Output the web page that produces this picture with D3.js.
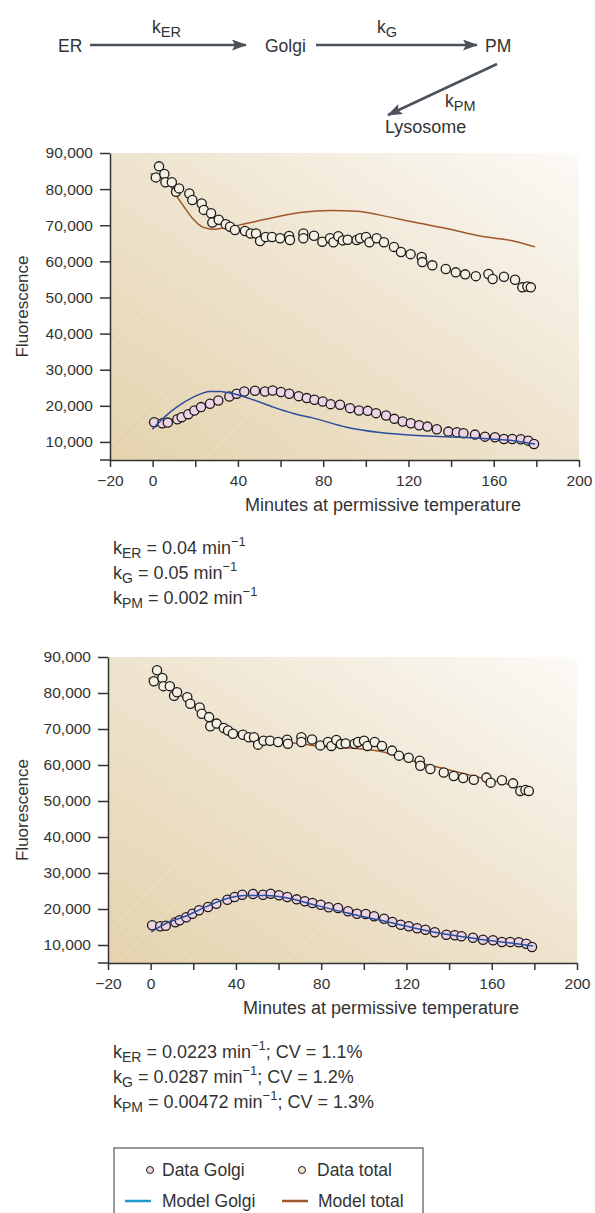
<!DOCTYPE html>
<html>
<head>
<meta charset="utf-8">
<script src="https://cdn.jsdelivr.net/npm/d3@7"></script>
<style>
  body { margin: 0; background: #fff; }
  svg text { font-family: "Liberation Sans", Arial, sans-serif; fill: #333; }
</style>
</head>
<body>
<svg id="chart" width="595" height="1213"></svg>
<script>
// measured data (same in both panels)
const golgiTimes = [0.7, 4.5, 7.1, 11.6, 13.6, 16.7, 19.6, 22.7, 26.9, 30.8, 36, 39.4, 43, 48, 52.7, 56.3, 60.2, 64.1, 68.5, 72.3, 75.9, 79.8, 83.5, 87.9, 92.6, 96.8, 100.9, 104.8, 109.5, 113.4, 117.3, 121.1, 125, 128.9, 133.3, 138.7, 142.7, 145.8, 151.2, 155.9, 160.6, 164.8, 168.7, 172.7, 176.2, 178.9];
const golgiValues = [15470, 15190, 15360, 16300, 16860, 17690, 18690, 19640, 20560, 21470, 22580, 23330, 23970, 24170, 23970, 24250, 23810, 23330, 22680, 22140, 21670, 21200, 20470, 20280, 19360, 18690, 18610, 17970, 17310, 16390, 15640, 15190, 14640, 14250, 13530, 12860, 12690, 12420, 12030, 11470, 11300, 10830, 10830, 10750, 10360, 9440];

const totalTimes = [1.5, 3, 5.5, 6, 9, 11, 12.4, 17.2, 18.6, 23, 24, 27.4, 28, 31, 34.3, 36.3, 38.6, 43.3, 46, 48.5, 50.4, 53, 56, 59.8, 64, 64.4, 70.7, 70.7, 75.7, 79.6, 83.2, 84.8, 87.1, 89.2, 91.5, 95.7, 97.3, 100.1, 101.7, 105.1, 108.5, 113.2, 116.5, 121, 126.2, 126.5, 131.2, 137.5, 142.2, 146.6, 151.6, 157.5, 159.5, 164.8, 170, 173.4, 175.8, 177.4];
const totalValues = [83250, 86300, 84200, 81900, 81900, 79250, 80200, 78800, 77000, 76000, 74250, 73300, 70750, 71500, 70300, 69600, 68700, 68400, 67700, 67700, 65650, 66750, 66750, 66400, 67000, 65900, 67700, 66400, 67100, 65450, 66400, 65300, 66950, 65800, 66000, 65900, 66400, 66750, 65300, 66400, 65300, 64000, 62600, 62000, 61200, 59800, 58900, 57900, 56950, 56400, 55900, 56500, 55100, 55750, 54900, 52800, 53050, 52800];

// model curves, panel 1 (initial guess of rates)
const model1Times = [-1, 2, 6.6, 9.7, 14.4, 19, 23.8, 28.5, 34.8, 41, 53.5, 69.2, 83.2, 95.7, 106.7, 122.3, 137.9, 153.6, 169.2, 179.4];
const model1Total = [84200, 84000, 82800, 79500, 75400, 71700, 69400, 68900, 69400, 70100, 71700, 73500, 74100, 73900, 72800, 70900, 69100, 67000, 65650, 64000];
const model1GolgiTimes = [-0.1, 5, 11.3, 19.1, 26.9, 31.6, 37.9, 47.2, 56.6, 66, 75.4, 91, 106.7, 122.3, 137.9, 153.6, 169.2, 179.4];
const model1Golgi = [13530, 16600, 19640, 22400, 23970, 23970, 23330, 21670, 19640, 17900, 16600, 14080, 12600, 11860, 11470, 11030, 10360, 9440];

// model curves, panel 2 (fitted rates)
const model2Times = [-1, 4.2, 10.5, 16.7, 23, 29.2, 38.6, 48, 59, 69.9, 76, 91.7, 107.4, 123, 138.7, 154.3, 170, 179.4];
const model2Total = [84000, 83600, 80900, 78100, 75300, 72600, 69600, 67800, 66600, 65900, 65400, 64800, 63800, 61100, 58800, 56500, 54200, 51900];
const model2GolgiTimes = [0.3, 7.3, 16.7, 26.1, 35.5, 44.9, 54.2, 63.6, 76.1, 91.8, 107.4, 123, 138.7, 154.3, 170, 179.4];
const model2Golgi = [13630, 16030, 18060, 20660, 22870, 23780, 23780, 23150, 21270, 18970, 16920, 14820, 12960, 11580, 10470, 9720];

const yTicks = [10000, 20000, 30000, 40000, 50000, 60000, 70000, 80000, 90000];
const xTicks = [-20, 0, 20, 40, 60, 80, 100, 120, 140, 160, 180, 200];
const xLabeled = [-20, 0, 40, 80, 120, 160, 200];

const BLUE = "#2b4d9c", BROWN = "#a0572b";
const svg = d3.select("#chart");
const defs = svg.append("defs");

// plot background: tan gradient plus faint diagonal hatch
const grad = defs.append("linearGradient").attr("id", "bg")
  .attr("x1", 0).attr("y1", 1).attr("x2", 1).attr("y2", 0);
grad.append("stop").attr("offset", "0%").attr("stop-color", "#e4d2ac");
grad.append("stop").attr("offset", "55%").attr("stop-color", "#efe5d1");
grad.append("stop").attr("offset", "100%").attr("stop-color", "#fcfaf6");

const hatch = defs.append("pattern").attr("id", "hatch")
  .attr("width", 7).attr("height", 7).attr("patternUnits", "userSpaceOnUse")
  .attr("patternTransform", "rotate(45)");
hatch.append("line").attr("x1", 0).attr("y1", 0).attr("x2", 0).attr("y2", 7)
  .attr("stroke", "#fff").attr("stroke-width", 1).attr("stroke-opacity", 0.28);

defs.append("marker").attr("id", "head")
  .attr("markerUnits", "userSpaceOnUse")
  .attr("markerWidth", 15).attr("markerHeight", 11)
  .attr("refX", 14).attr("refY", 5.5).attr("orient", "auto")
  .append("path").attr("d", "M0,0 L15,5.5 L0,11 L3,5.5 Z").attr("fill", "#4b5259");

// write "k" + subscript + rest, with optional superscript "−1"
function kLabel(sel, sub, parts) {
  sel.append("tspan").text("k");
  sel.append("tspan").attr("font-size", 14).attr("dy", 4).text(sub);
  parts.forEach((p, i) => {
    if (p.sup) sel.append("tspan").attr("font-size", 13).attr("dy", i === 0 ? -12 : -8).text(p.sup);
    else sel.append("tspan").attr("font-size", 18).attr("dy", i === 0 ? -4 : 8).text(p.t);
  });
}

// ---- pathway diagram ----
const diag = svg.append("g");
[["ER", 58], ["Golgi", 265], ["PM", 485]].forEach(([t, x]) => {
  diag.append("text").attr("x", x).attr("y", 52).attr("font-size", 17.5).text(t);
});
diag.append("text").attr("x", 385).attr("y", 133).attr("font-size", 18).text("Lysosome");
[[90, 45, 246, 45], [316, 45, 477, 45], [497, 64, 388, 115]].forEach(a => {
  diag.append("line").attr("x1", a[0]).attr("y1", a[1]).attr("x2", a[2]).attr("y2", a[3])
    .attr("stroke", "#4b5259").attr("stroke-width", 2.5).attr("marker-end", "url(#head)");
});
function kOnly(x, y, sub) {
  const t = diag.append("text").attr("x", x).attr("y", y).attr("font-size", 17.5);
  t.append("tspan").text("k");
  t.append("tspan").attr("font-size", 14.5).attr("dy", 4).text(sub);
}
kOnly(152, 33, "ER");
kOnly(377, 33, "G");
kOnly(445, 107, "PM");

// ---- panels ----
function drawPanel(p) {
  const g = svg.append("g");
  const x = d3.scaleLinear().domain([-20, 200]).range([p.left, p.right]);
  const y = d3.scaleLinear().domain([5000, 90000]).range([p.bottom, p.top]);

  g.append("rect").attr("x", p.left).attr("y", p.top)
    .attr("width", p.right - p.left).attr("height", p.bottom - p.top).attr("fill", "url(#bg)");
  g.append("rect").attr("x", p.left).attr("y", p.top)
    .attr("width", p.right - p.left).attr("height", p.bottom - p.top).attr("fill", "url(#hatch)");

  const yAxis = g.append("g").attr("transform", `translate(${p.left},0)`)
    .call(d3.axisLeft(y).tickValues(yTicks).tickFormat(d3.format(",")).tickSizeInner(10).tickSizeOuter(0).tickPadding(7));
  const xAxis = g.append("g").attr("transform", `translate(0,${p.bottom})`)
    .call(d3.axisBottom(x).tickValues(xTicks)
      .tickFormat(d => xLabeled.includes(d) ? d3.format("")(d) : "")
      .tickSizeInner(7).tickSizeOuter(0).tickPadding(8));
  g.append("line").attr("x1", p.left - 10).attr("x2", p.left)
    .attr("y1", p.bottom).attr("y2", p.bottom).attr("stroke", "#333").attr("stroke-width", 1.5);
  [yAxis, xAxis].forEach(a => {
    a.select(".domain").attr("stroke", "#333").attr("stroke-width", 1.5);
    a.selectAll(".tick line").attr("stroke", "#333").attr("stroke-width", 1.5);
    a.selectAll(".tick text").attr("font-size", 15.5).attr("fill", "#333")
      .attr("font-family", "Liberation Sans, Arial, sans-serif");
  });

  g.append("text").attr("x", p.left + 273).attr("y", p.bottom + 51)
    .attr("text-anchor", "middle").attr("font-size", 18).text("Minutes at permissive temperature");
  g.append("text").attr("transform", `translate(28,${(p.top + p.bottom) / 2}) rotate(-90)`)
    .attr("text-anchor", "middle").attr("font-size", 17).text("Fluorescence");

  const line = d3.line().x(d => x(d[0])).y(d => y(d[1])).curve(d3.curveMonotoneX);
  g.append("path").datum(d3.zip(p.mTotalT, p.mTotal)).attr("d", line)
    .attr("fill", "none").attr("stroke", BROWN).attr("stroke-width", 1.5);

  g.append("g").selectAll("circle").data(d3.zip(totalTimes, totalValues)).join("circle")
    .attr("cx", d => x(d[0])).attr("cy", d => y(d[1])).attr("r", 4.6)
    .attr("fill", "#f6f0e2").attr("stroke", "#1a1a1a").attr("stroke-width", 1.3);
  g.append("g").selectAll("circle").data(d3.zip(golgiTimes, golgiValues)).join("circle")
    .attr("cx", d => x(d[0])).attr("cy", d => y(d[1])).attr("r", 4.6)
    .attr("fill", "#edd3e3").attr("stroke", "#1a1a1a").attr("stroke-width", 1.3);

  g.append("path").datum(d3.zip(p.mGolgiT, p.mGolgi)).attr("d", line)
    .attr("fill", "none").attr("stroke", BLUE).attr("stroke-width", 1.5);

  p.params.forEach((row, i) => {
    const t = g.append("text").attr("x", 113).attr("y", p.paramY + i * 25).attr("font-size", 18);
    kLabel(t, row.sub, [{ t: " = " + row.val + " min" }, { sup: "−1" }].concat(row.cv ? [{ t: "; CV = " + row.cv }] : []));
  });
}

drawPanel({
  left: 110, right: 579, top: 153, bottom: 460,
  mTotalT: model1Times, mTotal: model1Total, mGolgiT: model1GolgiTimes, mGolgi: model1Golgi,
  paramY: 554,
  params: [{ sub: "ER", val: "0.04" }, { sub: "G", val: "0.05" }, { sub: "PM", val: "0.002" }]
});
drawPanel({
  left: 108, right: 577, top: 657, bottom: 963,
  mTotalT: model2Times, mTotal: model2Total, mGolgiT: model2GolgiTimes, mGolgi: model2Golgi,
  paramY: 1058,
  params: [{ sub: "ER", val: "0.0223", cv: "1.1%" }, { sub: "G", val: "0.0287", cv: "1.2%" }, { sub: "PM", val: "0.00472", cv: "1.3%" }]
});

// ---- legend ----
const lg = svg.append("g");
lg.append("rect").attr("x", 114).attr("y", 1148).attr("width", 309).attr("height", 90)
  .attr("fill", "#fff").attr("stroke", "#555").attr("stroke-width", 1.2);
lg.append("circle").attr("cx", 150).attr("cy", 1170).attr("r", 3.5)
  .attr("fill", "#edd3e3").attr("stroke", "#1a1a1a").attr("stroke-width", 1);
lg.append("text").attr("x", 162).attr("y", 1176).attr("font-size", 17.5).text("Data Golgi");
lg.append("circle").attr("cx", 302).attr("cy", 1170).attr("r", 3.5)
  .attr("fill", "#f3e8cc").attr("stroke", "#1a1a1a").attr("stroke-width", 1);
lg.append("text").attr("x", 317).attr("y", 1176).attr("font-size", 17.5).text("Data total");
lg.append("line").attr("x1", 125).attr("x2", 151).attr("y1", 1201).attr("y2", 1201)
  .attr("stroke", "#1e9ad0").attr("stroke-width", 2.5);
lg.append("text").attr("x", 162).attr("y", 1207).attr("font-size", 17.5).text("Model Golgi");
lg.append("line").attr("x1", 282).attr("x2", 308).attr("y1", 1201).attr("y2", 1201)
  .attr("stroke", BROWN).attr("stroke-width", 2.5);
lg.append("text").attr("x", 318).attr("y", 1207).attr("font-size", 17.5).text("Model total");
</script>
</body>
</html>
